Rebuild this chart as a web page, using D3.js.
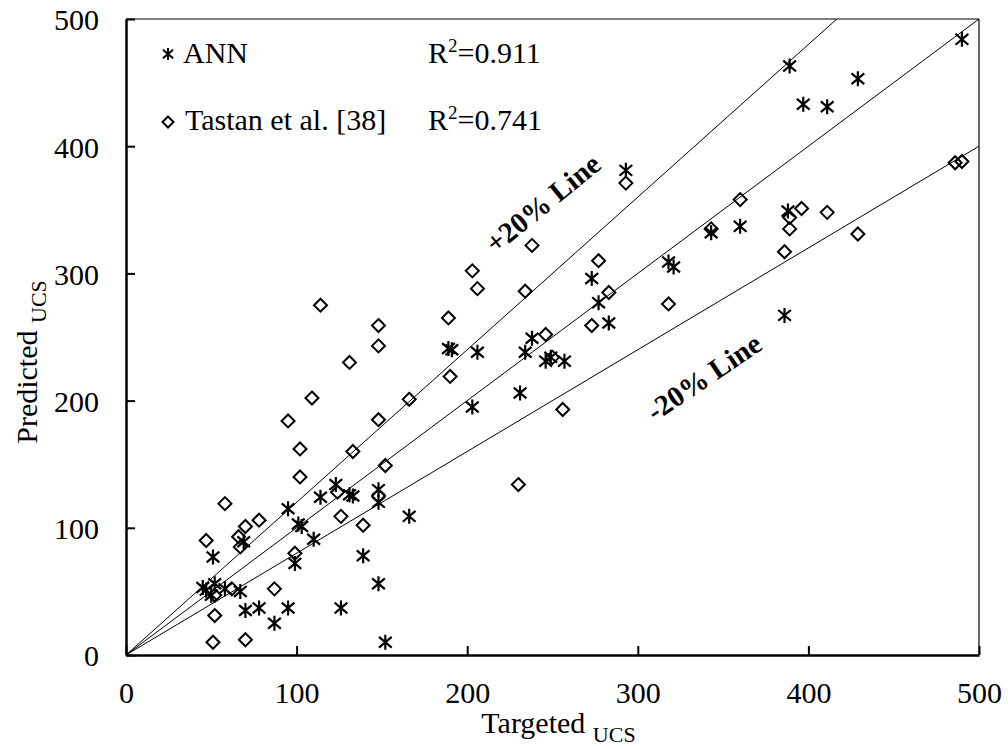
<!DOCTYPE html>
<html>
<head>
<meta charset="utf-8">
<script src="https://cdn.jsdelivr.net/npm/d3@7"></script>
<style>
  body { margin: 0; background: #fff; }
  svg text { font-family: "Liberation Serif", "Times New Roman", serif; fill: #000; }
</style>
</head>
<body>
<div id="chart"></div>
<script>
// ANN predictions (targeted vs predicted UCS)
const annTargeted = [490, 389, 429, 397, 411, 388, 343, 360, 386, 293, 273, 277, 283, 318, 321,
  189, 191, 206, 238, 234, 246, 249, 257, 231, 203, 123, 114, 131, 133, 148, 148, 166, 95,
  101, 103, 110, 99, 139, 148, 126, 152, 95, 87, 78, 70, 51, 69, 52, 47, 50, 58, 67, 45];
const annPredicted = [484, 463, 453, 433, 431, 349, 332, 337, 267, 381, 296, 277, 261, 309, 305,
  241, 240, 238, 249, 238, 231, 234, 231, 206, 195, 134, 124, 126, 125, 130, 120, 109, 115,
  103, 101, 91, 72, 78, 56, 37, 10, 37, 25, 37, 35, 77, 89, 56, 51, 47, 52, 50, 53];

// Tastan et al. [38]
const tastanTargeted = [486, 490, 360, 396, 411, 389, 389, 343, 429, 386, 293, 238, 203, 206, 234,
  277, 283, 318, 189, 273, 246, 250, 190, 166, 256, 114, 148, 148, 131, 109, 95, 148, 102, 133,
  102, 152, 58, 78, 70, 66, 47, 67, 124, 148, 126, 139, 99, 87, 62, 52, 51, 70, 52, 230];
const tastanPredicted = [387, 388, 358, 351, 348, 344, 335, 335, 331, 317, 371, 322, 302, 288, 286,
  310, 285, 276, 265, 259, 252, 234, 219, 201, 193, 275, 259, 243, 230, 202, 184, 185, 162, 160,
  140, 149, 119, 106, 101, 93, 90, 85, 128, 125, 109, 102, 80, 52, 52, 31, 10, 12, 47, 134];

const ticks = [0, 100, 200, 300, 400, 500];
const lineFactors = [1.2, 1.0, 0.8];

const width = 1008, height = 749;
const margin = {left: 126, right: 29, top: 19, bottom: 94};

const svg = d3.select("#chart").append("svg")
  .attr("width", width)
  .attr("height", height);

const x = d3.scaleLinear().domain([0, 500]).range([margin.left, width - margin.right]);
const y = d3.scaleLinear().domain([0, 500]).range([height - margin.bottom, margin.top]);

// clip for reference lines
svg.append("clipPath").attr("id", "plotclip")
  .append("rect")
  .attr("x", x(0)).attr("y", y(500))
  .attr("width", x(500) - x(0)).attr("height", y(0) - y(500));

// reference lines y = k*x
svg.append("g").attr("clip-path", "url(#plotclip)")
  .selectAll("line")
  .data(lineFactors)
  .enter().append("line")
  .attr("x1", x(0)).attr("y1", y(0))
  .attr("x2", d => x(Math.min(500, 500 / d)))
  .attr("y2", d => y(Math.min(500, 500 / d) * d))
  .attr("stroke", "#000")
  .attr("stroke-width", 1);

// frame: thin top/right
svg.append("line")
  .attr("x1", x(0)).attr("x2", x(500)).attr("y1", y(500)).attr("y2", y(500))
  .attr("stroke", "#000").attr("stroke-width", 1.2);
svg.append("line")
  .attr("x1", x(500)).attr("x2", x(500)).attr("y1", y(0)).attr("y2", y(500))
  .attr("stroke", "#000").attr("stroke-width", 1.2);

// axes with inward ticks
const xAxis = svg.append("g")
  .attr("transform", `translate(0,${y(0)})`)
  .call(d3.axisBottom(x).tickValues(ticks).tickSize(-9).tickPadding(27).tickSizeOuter(0));
const yAxis = svg.append("g")
  .attr("transform", `translate(${x(0)},0)`)
  .call(d3.axisLeft(y).tickValues(ticks).tickSize(-9).tickPadding(27).tickSizeOuter(0));

[xAxis, yAxis].forEach(a => {
  a.select(".domain").attr("stroke", "#000").attr("stroke-width", 2.5);
  a.selectAll(".tick line").attr("stroke", "#000").attr("stroke-width", 2);
  a.selectAll(".tick text")
    .style("font-family", "'Liberation Serif', 'Times New Roman', serif")
    .style("font-size", "30px")
    .attr("fill", "#000");
});
yAxis.selectAll(".tick text").attr("dy", "0.36em");

// markers
function starPath(s) {
  const a = s * 0.85, b = s * 0.72;
  return `M0,${-s}L0,${s}M${-a},${-b}L${a},${b}M${-a},${b}L${a},${-b}`;
}
function diamondPath(s) {
  return `M0,${-s}L${s},0L0,${s}L${-s},0Z`;
}

svg.append("g").selectAll("path")
  .data(tastanTargeted.map((t, i) => [t, tastanPredicted[i]]))
  .enter().append("path")
  .attr("transform", d => `translate(${x(d[0])},${y(d[1])})`)
  .attr("d", diamondPath(6.5))
  .attr("fill", "none")
  .attr("stroke", "#000")
  .attr("stroke-width", 2);

svg.append("g").selectAll("path")
  .data(annTargeted.map((t, i) => [t, annPredicted[i]]))
  .enter().append("path")
  .attr("transform", d => `translate(${x(d[0])},${y(d[1])})`)
  .attr("d", starPath(7.5))
  .attr("fill", "none")
  .attr("stroke", "#000")
  .attr("stroke-width", 2.2);

// legend
const legend = svg.append("g");
legend.append("path")
  .attr("transform", "translate(168,54)")
  .attr("d", starPath(6))
  .attr("stroke", "#000").attr("stroke-width", 2).attr("fill", "none");
legend.append("text").attr("x", 183).attr("y", 63)
  .style("font-size", "30px").text("ANN");
legend.append("path")
  .attr("transform", "translate(168,122)")
  .attr("d", diamondPath(5.5))
  .attr("stroke", "#000").attr("stroke-width", 2).attr("fill", "none");
legend.append("text").attr("x", 185).attr("y", 130)
  .style("font-size", "30px").text("Tastan et al. [38]");

// R squared
const r2 = [{y: 63, v: "0.911"}, {y: 130, v: "0.741"}];
r2.forEach(d => {
  const t = svg.append("text").attr("x", 428).attr("y", d.y).style("font-size", "30px");
  t.append("tspan").text("R");
  t.append("tspan").attr("dy", -11).style("font-size", "19px").text("2");
  t.append("tspan").attr("dy", 11).text("=" + d.v);
});

// line labels
svg.append("text")
  .attr("transform", `translate(${x(248)},${y(349)}) rotate(-39)`)
  .attr("text-anchor", "middle")
  .style("font-size", "29px").style("font-weight", "bold")
  .text("+20% Line");
svg.append("text")
  .attr("transform", `translate(${x(342)},${y(212)}) rotate(-34)`)
  .attr("text-anchor", "middle")
  .style("font-size", "29px").style("font-weight", "bold")
  .text("-20% Line");

// axis titles
const xt = svg.append("text")
  .attr("x", (x(0) + x(500)) / 2 + 6).attr("y", 733)
  .attr("text-anchor", "middle")
  .style("font-size", "30px");
xt.append("tspan").text("Targeted ");
xt.append("tspan").attr("dy", 9).style("font-size", "22px").text("UCS");

const yt = svg.append("text")
  .attr("transform", `translate(37,${(y(0) + y(500)) / 2 + 25}) rotate(-90)`)
  .attr("text-anchor", "middle")
  .style("font-size", "30px");
yt.append("tspan").text("Predicted ");
yt.append("tspan").attr("dy", 9).style("font-size", "22px").text("UCS");
</script>
</body>
</html>
